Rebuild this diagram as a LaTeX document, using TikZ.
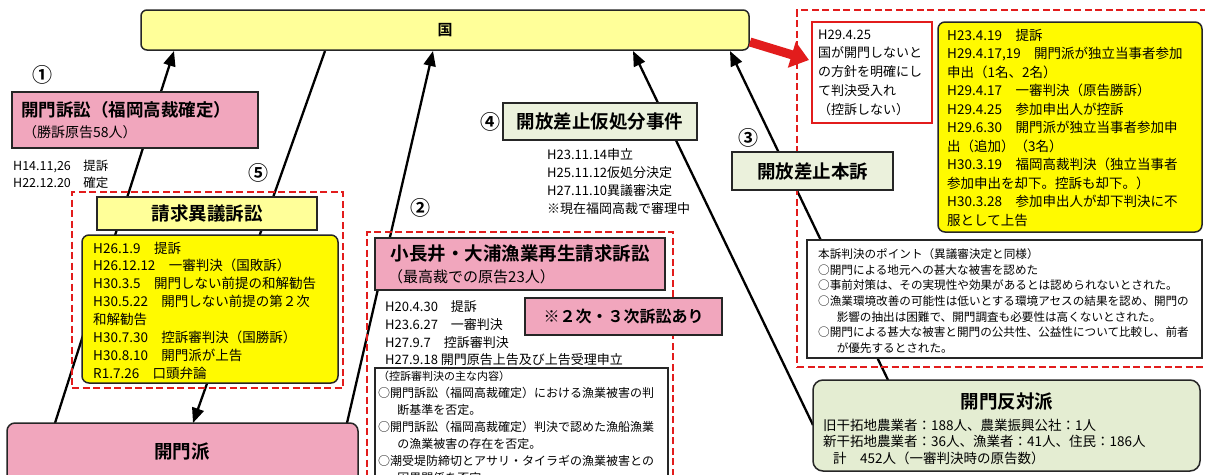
\documentclass[tikz,border=0pt]{standalone}
\usepackage{fontspec}
\setmainfont{Noto Sans CJK JP}[BoldFont={Noto Sans CJK JP Bold}]
\usetikzlibrary{arrows.meta,backgrounds}
\definecolor{pk}{RGB}{241,166,189}
\definecolor{py}{RGB}{255,255,153}
\definecolor{yl}{RGB}{255,250,0}
\definecolor{pg}{RGB}{235,241,220}
\definecolor{gg}{RGB}{228,237,210}
\definecolor{rd}{RGB}{226,28,28}
\newcommand\myfs[2]{\fontsize{#1}{#2}\selectfont}
\begin{document}
\begin{tikzpicture}[x=1pt,y=-1pt,
 bx/.style={draw=black!85,line width=1.5pt,inner sep=0pt,outer sep=0pt},
 rbx/.style={bx,rounded corners=7pt},
 rdash/.style={draw=rd,line width=2.6pt,dash pattern=on 7pt off 3.5pt,inner sep=0pt,outer sep=0pt},
 conn/.style={line width=2.3pt,draw=black},
 tipk/.style={-{Triangle[length=15pt,width=12pt]}},
 txt/.style={inner sep=0pt,anchor=west,align=left},
 num/.style={inner sep=0pt,font=\bfseries\myfs{20}{20}},
]
\useasboundingbox (0,0) rectangle (1205,474);

% ---------- boxes ----------
\node[rbx,fill=py,rounded corners=6pt,minimum width=608,minimum height=40,font=\bfseries\myfs{15}{15}] (kuni) at (445,30) {国};

\node[num] (n1) at (42,75) {①};
\node[bx,fill=pk,minimum width=246,minimum height=56] (sosho) at (135,120) {};
\node[txt,font=\bfseries\myfs{17.5}{20}] (soshoA) at (21,110) {開門訴訟（福岡高裁確定）};
\node[txt,font=\myfs{14}{16}] (soshoB) at (23,132) {（勝訴原告58人）};
\node[txt,font=\myfs{12.5}{17}] (soshoD) at (13,174.5) {H14.11,26　提訴\\H22.12.20　確定};

\node[num] (n5) at (258,173) {⑤};
\node[rdash,minimum width=271,minimum height=196] (dash5) at (207.5,290) {};
\node[bx,fill=py,minimum width=220,minimum height=33,font=\bfseries\myfs{18.5}{20}] (seikyu) at (207,213.5) {請求異議訴訟};
\node[rbx,fill=yl,minimum width=256,minimum height=148] (ybox1) at (210,309) {};
\node[txt,font=\myfs{13.5}{17.86}] (ytxt1) at (93,310.5) {H26.1.9　提訴\\H26.12.12　一審判決（国敗訴）\\H30.3.5　開門しない前提の和解勧告\\H30.5.22　開門しない前提の第２次\\和解勧告\\H30.7.30　控訴審判決（国勝訴）\\H30.8.10　開門派が上告\\R1.7.26　口頭弁論};

\node[rbx,fill=pk,rounded corners=8pt,minimum width=351,minimum height=72] (kaimonha) at (182.5,459) {};
\node[inner sep=0pt,font=\bfseries\myfs{18.5}{20}] (kaimonhaT) at (182,452) {開門派};

\node[num] (n2) at (420,208) {②};
\node[rdash,minimum width=306,minimum height=263] (dash2) at (520,363.5) {};
\node[bx,fill=pk,minimum width=290,minimum height=52] (konaga) at (520,264) {};
\node[inner sep=0pt,font=\bfseries\myfs{18.5}{20}] (konagaA) at (520,253) {小長井・大浦漁業再生請求訴訟};
\node[txt,font=\myfs{15}{17}] (konagaB) at (388,277) {（最高裁での原告23人）};
\node[txt,font=\myfs{13}{17.7}] (konagaD) at (385,333.5) {H20.4.30　提訴\\H23.6.27　一審判決\\H27.9.7　控訴審判決\\H27.9.18 開門原告上告及び上告受理申立};
\node[bx,fill=pk,minimum width=197,minimum height=37,font=\bfseries\myfs{16}{18}] (ni3) at (623.5,316.5) {※２次・３次訴訟あり};
\node[bx,fill=white,minimum width=293,minimum height=127] (white2) at (521.5,431.5) {};
\node[txt,font=\myfs{12}{17}] (white2T) at (378,427.5) {{\myfs{11}{17}（控訴審判決の主な内容）}\\○開門訴訟（福岡高裁確定）における漁業被害の判\\\hspace*{1.6em}断基準を否定。\\○開門訴訟（福岡高裁確定）判決で認めた漁船漁業\\\hspace*{1.6em}の漁業被害の存在を否定。\\○潮受堤防締切とアサリ・タイラギの漁業被害との\\\hspace*{1.6em}因果関係を否定。};

\node[num] (n4) at (490,122) {④};
\node[bx,fill=pg,minimum width=194,minimum height=37,font=\bfseries\myfs{18.5}{20}] (kari) at (600,121.5) {開放差止仮処分事件};
\node[txt,font=\myfs{13}{18}] (kariD) at (547,182) {H23.11.14申立\\H25.11.12仮処分決定\\H27.11.10異議審決定\\※現在福岡高裁で審理中};

\node[num] (n3) at (748,138) {③};
\node[rdash,minimum width=415,minimum height=357] (dashR) at (1004.5,188.5) {};
\node[bx,fill=pg,minimum width=161,minimum height=38,font=\bfseries\myfs{18.5}{20}] (honso) at (812.5,171) {開放差止本訴};
\node[bx,draw=rd,line width=2.2pt,fill=white,minimum width=120,minimum height=101] (h2925) at (872,72.5) {};
\node[txt,font=\myfs{13}{18.75}] (h2925T) at (818,72.5) {H29.4.25\\国が開門しないと\\の方針を明確にし\\て判決受入れ\\（控訴しない）};
\node[rbx,fill=yl,minimum width=264,minimum height=210] (ybox2) at (1070,127) {};
\node[txt,font=\myfs{13.5}{18.5}] (ytxt2) at (947,127.5) {H23.4.19　提訴\\H29.4.17,19　開門派が独立当事者参加\\申出（1名、2名）\\H29.4.17　一審判決（原告勝訴）\\H29.4.25　参加申出人が控訴\\H29.6.30　開門派が独立当事者参加申\\出（追加）（3名）\\H30.3.19　福岡高裁判決（独立当事者\\参加申出を却下。控訴も却下。）\\H30.3.28　参加申出人が却下判決に不\\服として上告};
\node[bx,fill=white,minimum width=395,minimum height=118] (point) at (1004.5,299) {};
\node[txt,font=\myfs{11.6}{15.7}] (pointT) at (818,301) {本訴判決のポイント（異議審決定と同様）\\○開門による地元への甚大な被害を認めた\\○事前対策は、その実現性や効果があるとは認められないとされた。\\○漁業環境改善の可能性は低いとする環境アセスの結果を認め、開門の\\\hspace*{1.6em}影響の抽出は困難で、開門調査も必要性は高くないとされた。\\○開門による甚大な被害と開門の公共性、公益性について比較し、前者\\\hspace*{1.6em}が優先するとされた。};

\node[rbx,fill=gg,rounded corners=10pt,minimum width=387,minimum height=91] (hantai) at (1006.5,425.5) {};
\node[inner sep=0pt,font=\bfseries\myfs{18.5}{20}] (hantaiT) at (1007,402) {開門反対派};
\node[txt,font=\myfs{13.5}{16.5}] (hantaiD) at (823,441.5) {旧干拓地農業者：188人、農業振興公社：1人\\新干拓地農業者：36人、漁業者：41人、住民：186人\\\hspace*{10pt}計　452人（一審判決時の原告数）};

% ---------- connector end points ----------
\coordinate (aS) at (55,423);   \coordinate (aE) at (174,51);
\coordinate (bS) at (347,423);  \coordinate (bE) at (433,51);
\coordinate (cS) at (325,51);   \coordinate (cE) at (193,423);
\coordinate (dS) at (813,425);  \coordinate (dE) at (633,51);
\coordinate (eS) at (888,380);  \coordinate (eE) at (730,51);
\coordinate (rS) at (750,42);   \coordinate (rE) at (809,60);

\begin{scope}[on background layer]
\fill[white] (0,0) rectangle (1205,474);
\draw[conn,tipk] (aS) -- (aE);
\draw[conn,tipk] (bS) -- (bE);
\draw[conn,tipk] (cS) -- (cE);
\draw[conn,tipk] (dS) -- (dE);
\draw[conn,tipk] (eS) -- (eE);
\end{scope}
\draw[rd,line width=9pt,-{Triangle[length=18pt,width=26pt]}] (rS) -- (rE);
\end{tikzpicture}
\end{document}
